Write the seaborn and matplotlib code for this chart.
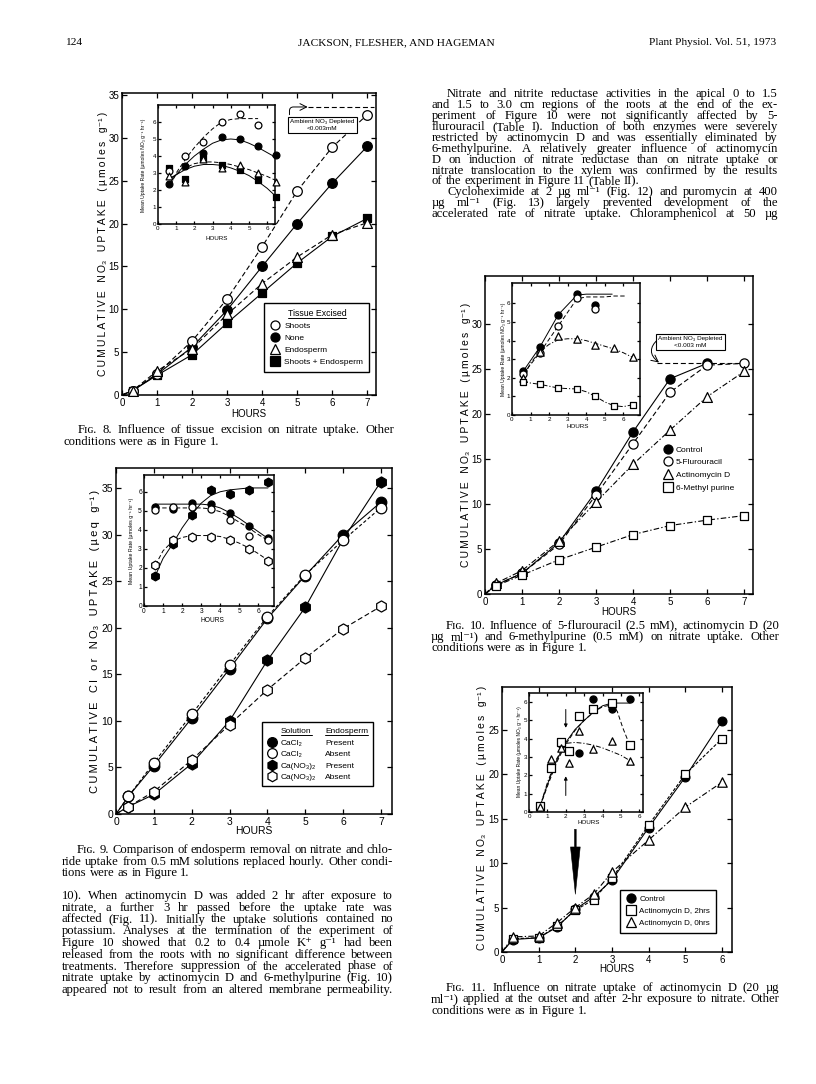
import matplotlib
matplotlib.use("Agg")
import matplotlib.pyplot as plt
import seaborn as sns
from matplotlib.lines import Line2D

# ---------- data ----------
# Fig. 8  tissue excision (cumulative, umoles/g)
hrs8 = [0.3, 1, 2, 3, 4, 5, 6, 7]
shoots8 = [0.5, 2.5, 6.3, 11.2, 17.3, 23.8, 28.9, 32.7]
none8 = [0.5, 2.4, 5.6, 9.9, 15.0, 20.0, 24.7, 29.0]
endo8 = [0.5, 2.8, 5.4, 9.4, 13.0, 16.1, 18.7, 20.1]
both8 = [0.5, 2.3, 4.7, 8.4, 11.9, 15.4, 18.5, 20.6]
depl8_x = [5.3, 7.2]
depl8_y = [33.6, 33.6]
# Fig. 8 inset (rates)
rh = [0.6, 1.5, 2.5, 3.5, 4.5, 5.5, 6.5]
shoots8i = [3.1, 4.0, 4.8, 6.0, 6.45, 5.85]
none8i = [2.35, 3.4, 4.2, 5.1, 5.0, 4.6, 4.05]
endo8i = [2.8, 2.5, 3.8, 3.3, 3.45, 3.0, 2.5]
both8i = [3.3, 2.65, 3.9, 3.5, 3.15, 2.6, 1.6]
c8_x = [0.7, 1, 1.5, 2, 2.5, 3, 3.5, 4, 4.5, 5, 5.5, 6, 6.5]
c8_shoots = [2.3, 3.0, 3.8, 4.5, 5.1, 5.6, 6.0, 6.15, 6.2, 6.2, 6.2, None, None]
c8_none = [2.5, 2.9, 3.5, 4.0, 4.4, 4.75, 4.95, 5.0, 4.95, 4.75, 4.5, 4.2, 3.9]
c8_endo = [2.7, 2.9, 3.3, 3.55, 3.65, 3.65, 3.6, 3.5, 3.35, 3.2, 3.0, 2.8, 2.55]
c8_both = [2.7, 2.9, 3.2, 3.4, 3.5, 3.5, 3.45, 3.3, 3.1, 2.85, 2.5, 2.1, 1.6]

# Fig. 9  endosperm removal (ueq/g)
hrs9 = [0.33, 1, 2, 3, 4, 5, 6, 7]
ca_p9 = [1.9, 5.2, 10.3, 15.6, 21.0, 25.6, 30.0, 33.5]
ca_a9 = [1.9, 5.5, 10.7, 16.0, 21.2, 25.7, 29.4, 32.9]
no_p9 = [0.8, 2.1, 5.4, 10.0, 16.5, 22.2, 29.5, 35.7]
no_a9 = [0.8, 2.4, 5.8, 9.6, 13.35, 16.75, 19.9, 22.3]
ca_p9i = [5.2, 5.1, 5.4, 5.35, 4.9, 4.2, 3.55]
ca_a9i = [5.05, 5.2, 5.2, 5.1, 4.5, 3.7, 3.45]
no_p9i = [1.6, 3.25, 4.8, 6.1, 5.9, 6.1, 6.5]
no_a9i = [2.15, 3.45, 3.65, 3.65, 3.45, 3.0, 2.35]
c9_x = [0.6, 1, 1.5, 2, 2.5, 3, 3.5, 4, 4.5, 5, 5.5, 6, 6.5]
c9_cap = [5.35, 5.35, 5.35, 5.35, 5.35, 5.35, 5.3, 5.15, 4.9, 4.6, 4.25, 3.9, 3.55]
c9_caa = [5.15, 5.15, 5.15, 5.15, 5.15, 5.15, 5.1, 4.95, 4.7, 4.4, 4.1, 3.75, 3.45]
c9_nop = [1.6, 2.5, 3.25, 4.1, 4.8, 5.4, 5.8, 6.0, 6.1, 6.15, 6.2, 6.2, 6.2]
c9_noa = [2.15, 2.9, 3.4, 3.6, 3.7, 3.7, 3.7, 3.65, 3.5, 3.3, 3.05, 2.75, 2.4]

# Fig. 10  inhibitors
hrs10 = [0.3, 1, 2, 3, 4, 5, 6, 7]
ctrl10 = [1.0, 2.3, 5.7, 11.4, 18.0, 23.9, 25.6]
fu10 = [1.0, 2.3, 5.5, 11.0, 16.7, 22.4, 25.4, 25.6]
actd10 = [1.2, 2.6, 5.9, 10.2, 14.4, 18.2, 21.9, 24.7]
mp10 = [0.9, 2.1, 3.8, 5.2, 6.6, 7.6, 8.2, 8.7]
depl10_x = [4.65, 7.0]
depl10_y = [25.6, 25.6]
ctrl10i = [2.35, 3.65, 5.4, 6.5, 5.9]
fu10i = [2.2, 3.35, 4.8, 6.3, 5.7]
actd10i = [2.0, 3.4, 4.25, 4.1, 3.75, 3.6, 3.1]
mp10i = [1.8, 1.65, 1.45, 1.4, 1.0, 0.5, 0.55]
c10_ctrl_x = [0.6, 1.5, 2.5, 3.5, 4, 4.5, 5, 5.4]
c10_ctrl = [2.35, 3.65, 5.4, 6.45, 6.5, 6.5, 6.5, 6.5]
c10_fu_x = [0.6, 1.5, 2.5, 3.5, 4, 4.5, 5, 5.5, 6.2]
c10_fu = [2.2, 3.35, 4.8, 6.25, 6.35, 6.35, 6.35, 6.4, 6.4]
c10_x = [0.6, 1, 1.5, 2, 2.5, 3, 3.5, 4, 4.5, 5, 5.5, 6, 6.5]
c10_actd = [2.0, 2.8, 3.4, 3.8, 4.05, 4.1, 4.1, 4.0, 3.85, 3.7, 3.55, 3.35, 3.1]
c10_mp = [1.8, 1.72, 1.65, 1.55, 1.45, 1.42, 1.4, 1.25, 1.0, 0.7, 0.5, 0.45, 0.55]

# Fig. 11  actinomycin D timing
hrs11 = [0.3, 1, 1.5, 2, 2.5, 3, 4, 5, 6]
ctrl11 = [1.4, 1.6, 2.8, 4.8, 6.2, 8.1, 14.0, 19.7, 26.0]
act2_11 = [1.5, 1.6, 2.9, 4.7, 5.9, 8.3, 14.3, 20.0, 24.0]
act0_11 = [1.7, 1.8, 3.3, 5.0, 6.5, 9.0, 12.6, 16.3, 19.1]
rh11 = [0.6, 1.2, 1.75, 2.2, 2.7, 3.5, 4.5, 5.5]
ctrl11i = [0.3, 2.4, 3.7, 3.35, 3.25, 6.15, 5.65, 6.15]
act2_11i = [0.35, 2.4, 3.8, 3.35, 5.25, 5.65, 5.95, 3.65]
act0_11i = [0.25, 2.9, 3.5, 2.7, 4.45, 3.45, 3.9, 2.8]
c11_x = [0.6, 1, 1.5, 2, 2.5, 3, 3.5, 4, 4.5, 5, 5.5]
c11_ctrl = [0.3, 1.5, 2.8, 3.8, 4.5, 5.0, 5.45, 5.8, 5.95, 5.95, 5.95]
c11_a2_x = [0.6, 1, 1.5, 2, 2.5, 3, 3.5, 4, 4.5, 4.8, 5.1, 5.5]
c11_a2 = [0.3, 1.4, 2.7, 3.7, 4.45, 5.0, 5.45, 5.75, 5.85, 5.5, 4.6, 3.6]
c11_a0 = [0.3, 1.6, 2.9, 3.75, 3.8, 3.75, 3.65, 3.5, 3.3, 3.1, 2.8]

# ---------- page text ----------
header = ['124', 'JACKSON, FLESHER, AND HAGEMAN', 'Plant Physiol. Vol. 51, 1973']
right_top = [
    '>Nitrate and nitrite reductase activities in the apical 0 to 1.5',
    'and 1.5 to 3.0 cm regions of the roots at the end of the ex-',
    'periment of Figure 10 were not significantly affected by 5-',
    'flurouracil (Table I). Induction of both enzymes were severely',
    'restricted by actinomycin D and was essentially eliminated by',
    '6-methylpurine. A relatively greater influence of actinomycin',
    'D on induction of nitrate reductase than on nitrate uptake or',
    'nitrate translocation to the xylem was confirmed by the results',
    'of the experiment in Figure 11 (Table II).<',
    '>Cycloheximide at 2 µg ml⁻¹ (Fig. 12) and puromycin at 400',
    'µg ml⁻¹ (Fig. 13) largely prevented development of the',
    'accelerated rate of nitrate uptake. Chloramphenicol at 50 µg',
]
cap8 = ['>Fɪɢ. 8. Influence of tissue excision on nitrate uptake. Other',
        'conditions were as in Figure 1.<']
cap9 = ['>Fɪɢ. 9. Comparison of endosperm removal on nitrate and chlo-',
        'ride uptake from 0.5 mM solutions replaced hourly. Other condi-',
        'tions were as in Figure 1.<']
left_bottom = [
    '10). When actinomycin D was added 2 hr after exposure to',
    'nitrate, a further 3 hr passed before the uptake rate was',
    'affected (Fig. 11). Initially the uptake solutions contained no',
    'potassium. Analyses at the termination of the experiment of',
    'Figure 10 showed that 0.2 to 0.4 µmole K⁺ g⁻¹ had been',
    'released from the roots with no significant difference between',
    'treatments. Therefore suppression of the accelerated phase of',
    'nitrate uptake by actinomycin D and 6-methylpurine (Fig. 10)',
    'appeared not to result from an altered membrane permeability.',
]
cap10 = ['>Fɪɢ. 10. Influence of 5-flurouracil (2.5 mM), actinomycin D (20',
         'µg ml⁻¹) and 6-methylpurine (0.5 mM) on nitrate uptake. Other',
         'conditions were as in Figure 1.<']
cap11 = ['>Fɪɢ. 11. Influence on nitrate uptake of actinomycin D (20 µg',
         'ml⁻¹) applied at the outset and after 2-hr exposure to nitrate. Other',
         'conditions were as in Figure 1.<']

# ---------- style ----------
sns.set_theme(style="ticks")
plt.rcParams['font.family'] = ['Liberation Sans', 'DejaVu Sans']
plt.rcParams['mathtext.default'] = 'regular'
for k in ['text.color', 'axes.labelcolor', 'xtick.color', 'ytick.color', 'axes.edgecolor']:
    plt.rcParams[k] = 'black'
SERIF = ['Liberation Serif', 'DejaVu Serif']
DASH = (0, (4.5, 2.5))
DDOT = (0, (5, 2, 1.2, 2))

W, H = 816, 1084
fig = plt.figure(figsize=(W / 100, H / 100), dpi=100)
fig.patch.set_facecolor('white')


def add_ax(l, t, r, b):
    return fig.add_axes([l / W, 1 - b / H, (r - l) / W, (b - t) / H])


def frame(ax, xlim, ylim, xt, yt, fs, ln=3.5, pad=2):
    ax.set_xlim(xlim)
    ax.set_ylim(ylim)
    ax.set_xticks(xt)
    ax.set_yticks(yt)
    ax.tick_params(direction='in', top=True, right=True, length=ln, width=0.9,
                   labelsize=fs, pad=pad)
    for sp in ax.spines.values():
        sp.set_linewidth(1.1)
        sp.set_color('black')
    ax.set_xlabel('')
    ax.set_ylabel('')
    ax.set_facecolor('white')


def pts(ax, x, y, m, filled, s):
    sns.scatterplot(x=x, y=y, ax=ax, marker=m, s=s,
                    color='black' if filled else 'white', edgecolor='black',
                    linewidth=0.9, zorder=3 if filled else 4, legend=False, clip_on=False)


def crv(ax, x, y, ls='-', lw=0.8):
    xx = [a for a, b in zip(x, y) if b is not None]
    yy = [b for b in y if b is not None]
    sns.lineplot(x=xx, y=yy, ax=ax, color='black', linewidth=lw, linestyle=ls,
                 sort=False, estimator=None, zorder=2)


def spaced(s, gap='\u2009'):
    out = ''
    for i, c in enumerate(s):
        out += c
        if i + 1 < len(s) and c != ' ' and s[i + 1] not in '₃₂⁻¹ ':
            out += gap
    return out.replace(' ', '   ')


def label(x, y, s, size, rot=0, sp=True):
    fig.text(x / W, 1 - y / H, spaced(s) if sp else s, rotation=rot, ha='center',
             va='center', fontsize=size)


def handle(m, filled, ms=6.5):
    return Line2D([], [], ls='none', marker=m, ms=ms, mfc='black' if filled else 'white',
                  mec='black', mew=0.9)


# ================= Fig. 8 =================
ax8 = add_ax(122, 93, 376, 395)
crv(ax8, [0] + hrs8, [0] + shoots8, DASH)
crv(ax8, [0] + hrs8, [0] + none8)
crv(ax8, [0] + hrs8, [0] + endo8, DASH)
crv(ax8, [0] + hrs8, [0] + both8)
crv(ax8, depl8_x, depl8_y, DASH)
pts(ax8, hrs8, none8, 'o', True, 48)
pts(ax8, hrs8, both8, 's', True, 40)
pts(ax8, hrs8, shoots8, 'o', False, 48)
pts(ax8, hrs8, endo8, '^', False, 50)
frame(ax8, (0, 7.25), (0, 35.23), range(8), range(0, 36, 5), 7)
ax8.annotate('', xy=(5.3, 33.6), xytext=(4.78, 32.7),
             arrowprops=dict(arrowstyle='->', lw=0.7, color='black', shrinkA=0, shrinkB=0,
                             connectionstyle='angle,angleA=90,angleB=0,rad=4'))
ax8.text(5.72, 31.5, 'Ambient NO₃ Depleted\n<0.003mM', fontsize=4.6, ha='center', va='center',
         linespacing=1.4, bbox=dict(boxstyle='square,pad=0.35', fc='white', ec='black', lw=0.8),
         zorder=5)
leg8 = ax8.legend([handle('o', False), handle('o', True), handle('^', False), handle('s', True)],
                  ['Shoots', 'None', 'Endosperm', 'Shoots + Endosperm'], title='Tissue Excised',
                  loc='lower right', bbox_to_anchor=(0.99, 0.063), fontsize=6, title_fontsize=6.3,
                  frameon=True, fancybox=False, edgecolor='black', framealpha=1, borderpad=0.7,
                  handletextpad=0.5, labelspacing=0.5, handlelength=1.2)
leg8.get_frame().set_linewidth(1.0)
label(103, 244, 'CUMULATIVE NO₃ UPTAKE (µmoles g⁻¹)', 7.5, 90)
label(249, 414, 'HOURS', 7, sp=False)

ax8i = add_ax(158, 105, 275, 224)
crv(ax8i, c8_x, c8_shoots, DASH, 0.7)
crv(ax8i, c8_x, c8_none, '-', 0.7)
crv(ax8i, c8_x, c8_endo, DASH, 0.7)
crv(ax8i, c8_x, c8_both, '-', 0.7)
pts(ax8i, rh, none8i, 'o', True, 24)
pts(ax8i, rh, both8i, 's', True, 22)
pts(ax8i, rh[:6], shoots8i, 'o', False, 24)
pts(ax8i, rh, endo8i, '^', False, 24)
frame(ax8i, (0, 6.43), (0, 7.0), range(7), range(7), 4.5, ln=2, pad=1.5)
label(143, 165, 'Mean Uptake Rate (µmoles NO₃ g⁻¹ hr⁻¹)', 3.6, 90, sp=False)
label(217, 238, 'HOURS', 4.5, sp=False)

# ================= Fig. 9 =================
ax9 = add_ax(116, 468, 392, 814)
crv(ax9, [0] + hrs9, [0] + ca_p9)
crv(ax9, [0] + hrs9, [0] + ca_a9, (0, (3, 2)))
crv(ax9, [0] + hrs9, [0] + no_p9)
crv(ax9, [0] + hrs9, [0] + no_a9, DASH)
pts(ax9, hrs9, ca_p9, 'o', True, 58)
pts(ax9, hrs9, no_p9, 'h', True, 64)
pts(ax9, hrs9, ca_a9, 'o', False, 58)
pts(ax9, hrs9, no_a9, 'h', False, 64)
frame(ax9, (0, 7.29), (0, 37.15), range(8), range(0, 36, 5), 7.5)
blank = Line2D([], [], ls='none')
leg9 = ax9.legend([blank, handle('o', True, 7), handle('o', False, 7), handle('h', True, 7.5),
                   handle('h', False, 7.5), blank, blank, blank, blank, blank],
                  ['Solution', 'CaCl₂', 'CaCl₂', 'Ca(NO₃)₂', 'Ca(NO₃)₂',
                   'Endosperm', 'Present', 'Absent', 'Present', 'Absent'],
                  ncol=2, loc='lower right', bbox_to_anchor=(0.948, 0.068), fontsize=6,
                  frameon=True, fancybox=False, edgecolor='black', framealpha=1, borderpad=0.6,
                  handletextpad=0.5, labelspacing=0.45, handlelength=1.2, columnspacing=-0.6)
leg9.get_frame().set_linewidth(1.0)
label(95, 641, 'CUMULATIVE Cl or NO₃ UPTAKE (µeq g⁻¹)', 8, 90)
label(254, 831, 'HOURS', 7.5, sp=False)

ax9i = add_ax(144, 475, 274, 606)
crv(ax9i, c9_x, c9_cap, '-', 0.7)
crv(ax9i, c9_x, c9_caa, DASH, 0.7)
crv(ax9i, c9_x, c9_nop, '-', 0.7)
crv(ax9i, c9_x, c9_noa, DASH, 0.7)
pts(ax9i, rh, ca_p9i, 'o', True, 26)
pts(ax9i, rh, no_p9i, 'h', True, 40)
pts(ax9i, rh, ca_a9i, 'o', False, 26)
pts(ax9i, rh, no_a9i, 'h', False, 40)
frame(ax9i, (0, 6.82), (0, 6.88), range(7), range(7), 4.8, ln=2, pad=1.5)
label(132, 541, 'Mean Uptake Rate (µmoles g⁻¹ hr⁻¹)', 3.8, 90, sp=False)
label(212, 620, 'HOURS', 4.8, sp=False)

# ================= Fig. 10 =================
ax10 = add_ax(485, 276, 753, 594)
crv(ax10, [0] + hrs10[:7], [0] + ctrl10)
crv(ax10, [0] + hrs10, [0] + fu10, DASH)
crv(ax10, [0] + hrs10, [0] + actd10, DDOT)
crv(ax10, [0] + hrs10, [0] + mp10, DDOT)
crv(ax10, depl10_x, depl10_y, DASH)
pts(ax10, hrs10[:7], ctrl10, 'o', True, 44)
pts(ax10, hrs10, fu10, 'o', False, 44)
pts(ax10, hrs10, actd10, '^', False, 50)
pts(ax10, hrs10, mp10, 's', False, 38)
frame(ax10, (0, 7.24), (0, 35.3), range(8), range(0, 31, 5), 7)
ax10.annotate('', xy=(4.7, 25.7), xytext=(4.68, 28.3),
              arrowprops=dict(arrowstyle='->', lw=0.7, color='black', shrinkA=0, shrinkB=0,
                              connectionstyle='arc3,rad=0.6'))
ax10.text(5.55, 28.0, 'Ambient NO₃ Depleted\n<0.003 mM', fontsize=4.6, ha='center', va='center',
          linespacing=1.4, bbox=dict(boxstyle='square,pad=0.35', fc='white', ec='black', lw=0.8),
          zorder=5)
ax10.legend([handle('o', True), handle('o', False), handle('^', False), handle('s', False)],
            ['Control', '5-Flurouracil', 'Actinomycin D', '6-Methyl purine'],
            loc='upper left', bbox_to_anchor=(0.64, 0.49), frameon=False, fontsize=6,
            handletextpad=0.4, labelspacing=0.6, handlelength=1.0)
label(466, 435, 'CUMULATIVE NO₃ UPTAKE (µmoles g⁻¹)', 7.5, 90)
label(619, 612, 'HOURS', 7, sp=False)

ax10i = add_ax(512, 283, 640, 415)
crv(ax10i, c10_ctrl_x, c10_ctrl, '-', 0.7)
crv(ax10i, c10_fu_x, c10_fu, DASH, 0.7)
crv(ax10i, c10_x, c10_actd, DDOT, 0.7)
crv(ax10i, c10_x, c10_mp, DDOT, 0.7)
pts(ax10i, rh[:5], ctrl10i, 'o', True, 26)
pts(ax10i, rh[:5], fu10i, 'o', False, 26)
pts(ax10i, rh, actd10i, '^', False, 28)
pts(ax10i, rh, mp10i, 's', False, 24)
frame(ax10i, (0, 6.9), (0, 7.1), range(7), range(7), 4.5, ln=2, pad=1.5)
label(503, 349, 'Mean Uptake Rate (µmoles NO₃ g⁻¹ hr⁻¹)', 3.6, 90, sp=False)
label(578, 427, 'HOURS', 4.5, sp=False)

# ================= Fig. 11 =================
ax11 = add_ax(502, 687, 732, 952)
crv(ax11, [0] + hrs11, [0] + ctrl11)
crv(ax11, [0] + hrs11, [0] + act2_11, (0, (3, 1.5)))
crv(ax11, [0] + hrs11, [0] + act0_11, DDOT)
pts(ax11, hrs11, ctrl11, 'o', True, 40)
pts(ax11, hrs11, act2_11, 's', False, 36)
pts(ax11, hrs11, act0_11, '^', False, 46)
frame(ax11, (0, 6.27), (0, 29.8), range(7), range(0, 26, 5), 7)
ax11.annotate('', xy=(2, 6.5), xytext=(2, 13.8),
              arrowprops=dict(arrowstyle='simple,head_length=3.4,head_width=0.7,tail_width=0.12',
                              fc='black', ec='black', lw=0.4, mutation_scale=10,
                              shrinkA=0, shrinkB=0))
ax11.legend([handle('o', True), handle('s', False), handle('^', False)],
            ['Control', 'Actinomycin D, 2hrs', 'Actinomycin D, 0hrs'],
            loc='lower right', bbox_to_anchor=(0.948, 0.057), fontsize=5.8, frameon=True,
            fancybox=False, edgecolor='black', framealpha=1, borderpad=0.7,
            handletextpad=0.5, labelspacing=0.55, handlelength=1.2).get_frame().set_linewidth(1.0)
label(482, 818, 'CUMULATIVE NO₃ UPTAKE (µmoles g⁻¹)', 7.5, 90)
label(617, 969, 'HOURS', 7, sp=False)

ax11i = add_ax(529, 693, 643, 812)
crv(ax11i, c11_x, c11_ctrl, '-', 0.7)
crv(ax11i, c11_a2_x, c11_a2, DASH, 0.7)
crv(ax11i, c11_x, c11_a0, DDOT, 0.7)
pts(ax11i, rh11, ctrl11i, 'o', True, 26)
pts(ax11i, rh11, act2_11i, 's', False, 26)
pts(ax11i, rh11, act0_11i, '^', False, 28)
frame(ax11i, (0, 6.2), (0, 6.5), range(7), range(7), 4.5, ln=2, pad=1.5)
for a, b in [((2, 4.6), (2, 5.6)), ((2, 1.95), (2, 0.9))]:
    ax11i.annotate('', xy=a, xytext=b, arrowprops=dict(arrowstyle='-|>', lw=0.7, color='black',
                                                        mutation_scale=5, shrinkA=0, shrinkB=0))
label(519, 752, 'Mean Uptake Rate (µmoles NO₃ g⁻¹ hr⁻¹)', 3.5, 90, sp=False)
label(589, 823, 'HOURS', 4.5, sp=False)

# ---------- page text ----------
fig.text(65 / W, 1 - 45 / H, header[0], fontsize=8.2, family=SERIF)
fig.text(396 / W, 1 - 45 / H, header[1], fontsize=8.2, family=SERIF, ha='center')
fig.text(776 / W, 1 - 45 / H, header[2], fontsize=8.2, family=SERIF, ha='right')

fig.canvas.draw()
rend = fig.canvas.get_renderer()


def underline(t):
    bb = t.get_window_extent(rend)
    fig.add_artist(Line2D([bb.x0 / W, bb.x1 / W], [(bb.y0 - 0.5) / H] * 2, color='black', lw=0.7))


underline(leg8.get_title())
underline(leg9.get_texts()[0])
underline(leg9.get_texts()[5])


def block(lines, x0, x1, y0, dy, size=9.1, indent=15):
    for i, line in enumerate(lines):
        ind, rag = line.startswith('>'), line.endswith('<')
        line = line.strip('<>')
        xs = x0 + (indent if ind else 0)
        y = y0 + i * dy
        words = line.split(' ')
        arts = [fig.text(0, 0, w, fontsize=size, family=SERIF, va='baseline') for w in words]
        ws = [a.get_window_extent(rend).width for a in arts]
        if rag or len(words) == 1:
            gap = size * 0.25 * 100 / 72
        else:
            gap = max((x1 - xs - sum(ws)) / (len(words) - 1), 1.5)
        x = xs
        for a, w in zip(arts, ws):
            a.set_position((x / W, 1 - y / H))
            x += w + gap


block(right_top, 432, 778, 97, 10.93)
block(cap8, 63, 394, 433, 12.3)
block(cap9, 62, 393, 853, 11.7)
block(left_bottom, 62, 393, 899, 11.75)
block(cap10, 431, 779, 629, 11.0)
block(cap11, 431, 779, 991, 11.3)

fig.savefig('out.png', dpi=100, facecolor='white')
